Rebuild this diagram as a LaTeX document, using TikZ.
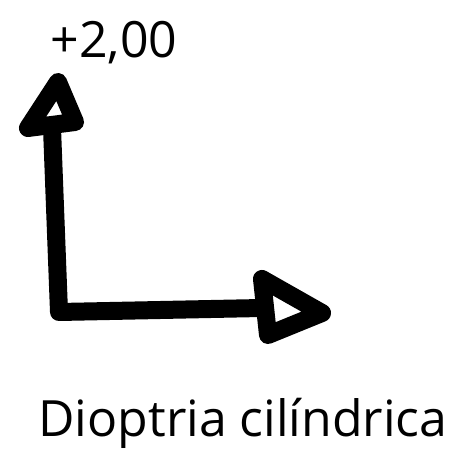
\documentclass[tikz,border=0pt]{standalone}
\usepackage{fontspec}
\setmainfont{Open Sans}
\begin{document}
\begin{tikzpicture}[x=1pt,y=1pt,
  stroke/.style={line width=18pt,line join=round,line cap=round},
  lbl/.style={font=\fontsize{50}{58}\selectfont,inner sep=0pt,anchor=base}]
\useasboundingbox (0,0) rectangle (459,453);
% coordinates (y up)
\coordinate (vtop) at (52,325);
\coordinate (corner) at (59,141);
\coordinate (hend) at (262,145);
\coordinate (ut) at (58,371);
\coordinate (ul) at (28,325);
\coordinate (ur) at (75,331);
\coordinate (rt) at (262,174);
\coordinate (rb) at (268,118);
\coordinate (rtip) at (322,140);
\draw[stroke] (vtop) -- (corner) -- (hend);
\draw[stroke] (ut) -- (ul) -- (ur) -- cycle;
\draw[stroke] (rt) -- (rtip) -- (rb) -- cycle;
\node[lbl] (val) at (114,395) {+2,00};
\node[lbl] (cap) at (243,16) {Dioptria cilíndrica};
\end{tikzpicture}
\end{document}
